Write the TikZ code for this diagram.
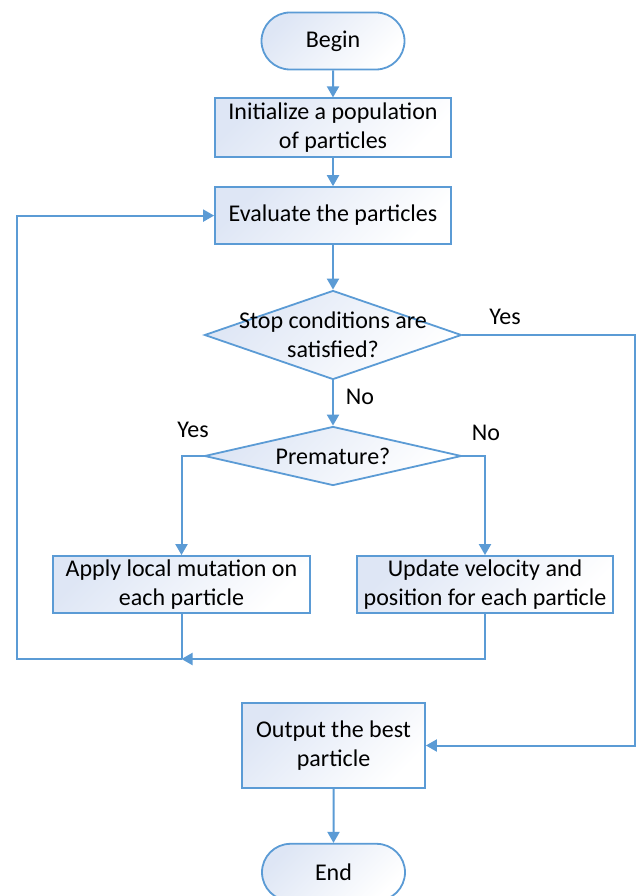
\documentclass[tikz,border=0pt]{standalone}
\usepackage{fontspec}
\setmainfont{Carlito}
\usetikzlibrary{positioning,arrows.meta,shapes.geometric,shapes.misc}
\definecolor{lineblue}{RGB}{91,155,213}
\definecolor{boxfill}{RGB}{222,230,245}
\tikzset{
  base/.style={draw=lineblue, line width=1.8pt, top color=boxfill, bottom color=white, shading angle=45, font=\fontsize{24}{29}\selectfont, align=center, inner sep=0pt},
  term/.style={base, rounded rectangle, minimum width=143pt, minimum height=57pt},
  proc/.style={base, rectangle, minimum height=57pt},
  decide/.style={base, diamond, minimum width=257pt},
  tag/.style={font=\fontsize{24}{29}\selectfont},
  connect/.style={-{Triangle[width=12pt,length=11pt]}, line width=2pt, draw=lineblue},
  link/.style={line width=2pt, draw=lineblue}
}
\begin{document}
\begin{tikzpicture}[x=1pt,y=-1pt]
    \useasboundingbox (0,0) rectangle (636,896);
    \node[term] (Begin) at (333,41) {Begin};
    \node[proc, minimum width=236pt, minimum height=59pt] (Init) [below=27pt of Begin] {Initialize a population\\of particles};
    \node[proc, minimum width=236pt] (Eval) [below=28pt of Init] {Evaluate the particles};
    \node[decide, minimum height=89pt, label={[tag,align=center]center:Stop conditions are\\satisfied?}] (Stop) at (333,335) {};
    \node[decide, minimum height=59pt, label={[tag]center:Premature?}] (Prem) at (333,456) {};
    \node[proc, minimum width=257pt] (Mut) at (181.5,584.5) {Apply local mutation on\\each particle};
    \node[proc, minimum width=256pt] (Upd) at (485,584.5) {Update velocity and\\position for each particle};
    \node[proc, minimum width=183pt, minimum height=85pt] (Out) at (333.5,745.5) {Output the best\\particle};
    \node[term] (End) [below=54pt of Out] {End};

    \node[tag] (StopYes) at (505,317) {Yes};
    \node[tag] (StopNo) at (360,397) {No};
    \node[tag] (PremYes) at (193,430) {Yes};
    \node[tag] (PremNo) at (486,433) {No};

    \coordinate (Merge) at (Mut.south |- 0,659);
    \coordinate (Back) at (17,659);
    \coordinate (Exit) at (Stop.east -| 635,0);

    \path (Begin) edge [connect] (Init)
          (Init) edge [connect] (Eval)
          (Eval) edge [connect] (Stop)
          (Stop) edge [connect] (Prem)
          (Out) edge [connect] (End);
    \draw[connect] (Prem.west) -| (Mut.north);
    \draw[connect] (Prem.east) -| (Upd.north);
    \draw[link] (Mut.south) -- (Merge);
    \draw[connect] (Upd.south) |- (Merge);
    \draw[connect] (Merge) -- (Back) |- (Eval.west);
    \draw[connect] (Stop.east) -- (Exit) |- (Out.east);
\end{tikzpicture}
\end{document}
